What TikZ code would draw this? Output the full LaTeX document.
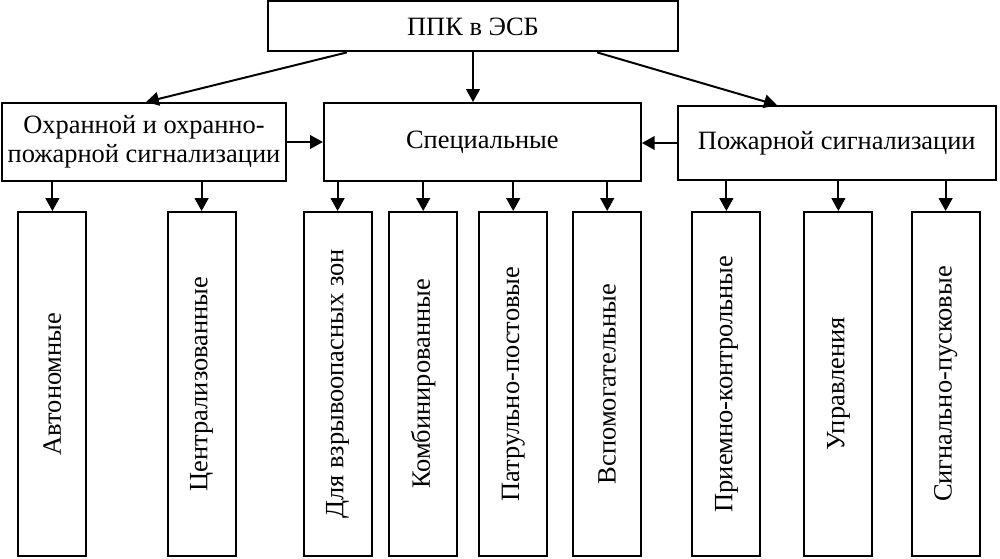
\documentclass[tikz,border=0pt]{standalone}
\usepackage{fontspec}
\setmainfont{Liberation Serif}
\usetikzlibrary{arrows.meta}

\begin{document}
\begin{tikzpicture}[
			font=\fontsize{18.8}{21}\selectfont,
			box/.style={draw, line width=1.4pt, inner sep=2pt, align=center},
			vbox/.style={box, minimum width=1.7cm, minimum height=8.6cm},
			vlabel/.style={rotate=90},
			arr/.style={-{Triangle[length=0.32cm, width=0.34cm]}, line width=1.4pt}
			]
			
			\useasboundingbox (0,0) rectangle (25,-13.975);
			
			\node[box, minimum width=10.25cm, minimum height=1.25cm] (ppk) at (11.825,-0.66) {ППК в ЭСБ};
			
			\node[box, minimum width=7.1cm, minimum height=1.95cm] (ohr) at (3.6,-3.55) {Охранной и охранно-\\пожарной сигнализации};
			\node[box, minimum width=7.925cm, minimum height=1.95cm] (spec) at (12.06,-3.55) {Специальные};
			\node[box, minimum width=7.95cm, minimum height=1.85cm] (pozh) at (20.92,-3.575) {Пожарной сигнализации};
			
			\node[vbox] (avt) at (1.31,-9.6) {};
			\node[vbox] (centr) at (5.04,-9.6) {};
			\node[vbox] (vzryv) at (8.44,-9.6) {};
			\node[vbox] (komb) at (10.58,-9.6) {};
			\node[vbox] (patr) at (12.83,-9.6) {};
			\node[vbox] (vspom) at (15.18,-9.6) {};
			\node[vbox] (priem) at (18.16,-9.6) {};
			\node[vbox] (upr) at (20.96,-9.6) {};
			\node[vbox] (sign) at (23.64,-9.6) {};
			
			\node[vlabel] at (avt) {Автономные};
			\node[vlabel] at (centr) {Централизованные};
			\node[vlabel] at (vzryv) {Для взрывоопасных зон};
			\node[vlabel] at (komb) {Комбинированные};
			\node[vlabel] at (patr) {Патрульно-постовые};
			\node[vlabel] at (vspom) {Вспомогательные};
			\node[vlabel] at (priem) {Приемно-контрольные};
			\node[vlabel] at (upr) {Управления};
			\node[vlabel] at (sign) {Сигнально-пусковые};
			
			\draw[arr] ([xshift=-3.15cm]ppk.south) -- ([xshift=0.05cm]ohr.north);
			\draw[arr] (ppk.south) -- (ppk.south |- spec.north);
			\draw[arr] ([xshift=3.1cm]ppk.south) -- ([xshift=-1.5cm]pozh.north);
			
			\draw[arr] (ohr) -- (spec);
			\draw[arr] (pozh.west) -- (pozh.west -| spec.east);
			
			\foreach \kid in {avt, centr}
				\draw[arr] (\kid.north |- ohr.south) -- (\kid.north);
			\foreach \kid in {vzryv, komb, patr, vspom}
				\draw[arr] (\kid.north |- spec.south) -- (\kid.north);
			\foreach \kid in {priem, upr, sign}
				\draw[arr] (\kid.north |- pozh.south) -- (\kid.north);
			
		\end{tikzpicture}
\end{document}
